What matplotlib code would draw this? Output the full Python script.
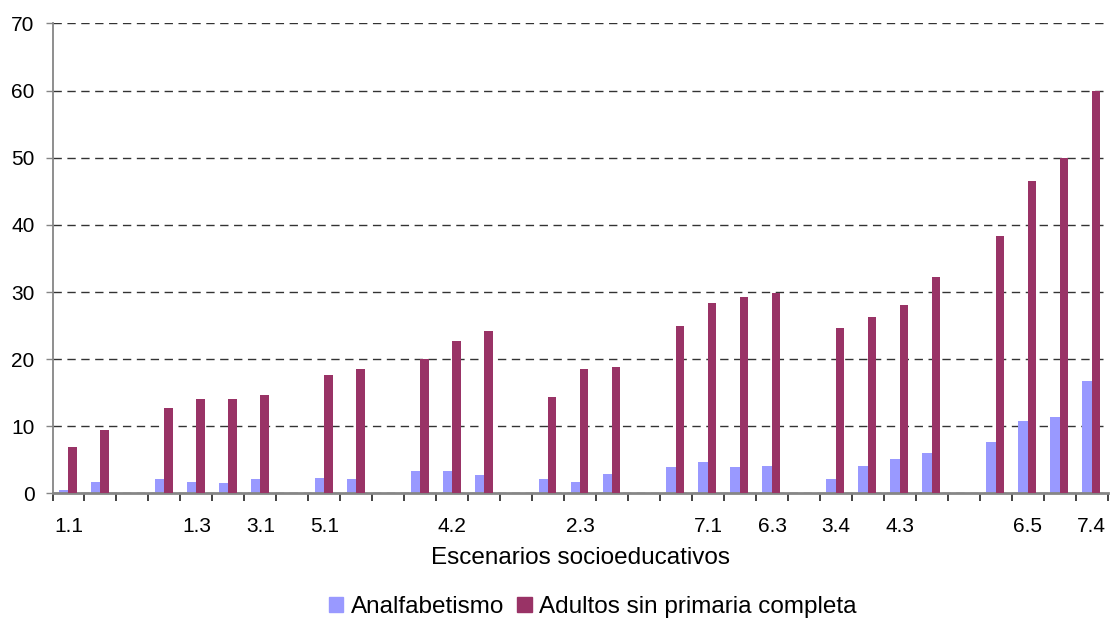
import numpy as np
import matplotlib
matplotlib.use("Agg")
import matplotlib.pyplot as plt
from matplotlib.patches import Patch

plt.rcParams['font.family'] = ['Liberation Sans', 'DejaVu Sans']

# one slot per scenario, empty slots separate the groups
labels = ["1.1", "", "", "", "1.3", "", "3.1", "", "5.1", "", "", "",
          "4.2", "", "", "", "2.3", "", "", "", "7.1", "", "6.3", "",
          "3.4", "", "4.3", "", "", "", "6.5", "", "7.4"]
nan = np.nan
analfabetismo = [0.5, 1.7, nan, 2.1, 1.7, 1.6, 2.2, nan, 2.3, 2.2, nan, 3.4,
                 3.4, 2.8, nan, 2.2, 1.7, 2.9, nan, 4.0, 4.7, 4.0, 4.1, nan,
                 2.2, 4.1, 5.2, 6.1, nan, 7.6, 10.8, 11.4, 16.8]
adultos = [6.9, 9.5, nan, 12.8, 14.0, 14.0, 14.7, nan, 17.6, 18.5, nan, 20.0,
           22.7, 24.2, nan, 14.4, 18.5, 18.8, nan, 24.9, 28.4, 29.3, 29.9, nan,
           24.6, 26.3, 28.1, 32.3, nan, 38.3, 46.6, 49.9, 60.0]

blue = "#9999FF"
maroon = "#993366"
axis_grey = "#868686"

fig = plt.figure(figsize=(11.1, 6.18), dpi=100)
ax = fig.add_axes([0.0473, 0.2015, 0.9507, 0.7605])

x = np.arange(len(labels))
ax.bar(x - 0.15, analfabetismo, width=0.30, color=blue, zorder=2)
ax.bar(x + 0.13, adultos, width=0.26, color=maroon, zorder=3)

ax.set_xlim(-0.5, len(labels) - 0.5)
ax.set_ylim(0, 70)
ax.set_yticks(range(0, 71, 10))
ax.yaxis.grid(True, linestyle=(0, (6, 4)), color="#333333", linewidth=1.0)
ax.set_axisbelow(True)

ax.set_xticks(x)
ax.set_xticklabels(labels)
ax.set_xticks(np.arange(-0.5, len(labels), 1.0), minor=True)
ax.tick_params(axis="x", which="major", length=0, pad=17, labelsize=15)
ax.tick_params(axis="x", which="minor", length=6, width=1.2, color="#222222")
ax.tick_params(axis="y", length=5, width=1.0, color=axis_grey, labelsize=15, pad=8)

for side in ["top", "right"]:
    ax.spines[side].set_visible(False)
ax.spines["left"].set_color(axis_grey)
ax.spines["bottom"].set_color(axis_grey)
ax.spines["left"].set_linewidth(1.3)
ax.spines["bottom"].set_linewidth(2.0)

ax.set_xlabel("Escenarios socioeducativos", fontsize=17.5, labelpad=8)

handles = [Patch(color=blue, label="Analfabetismo"),
           Patch(color=maroon, label="Adultos sin primaria completa")]
fig.legend(handles=handles, loc="center", bbox_to_anchor=(0.534, 0.0178),
           ncol=2, frameon=False, fontsize=17.5, handlelength=0.6, handleheight=0.6,
           handletextpad=0.3, columnspacing=0.55, borderpad=0.0)

fig.savefig("out.png", dpi=100)
